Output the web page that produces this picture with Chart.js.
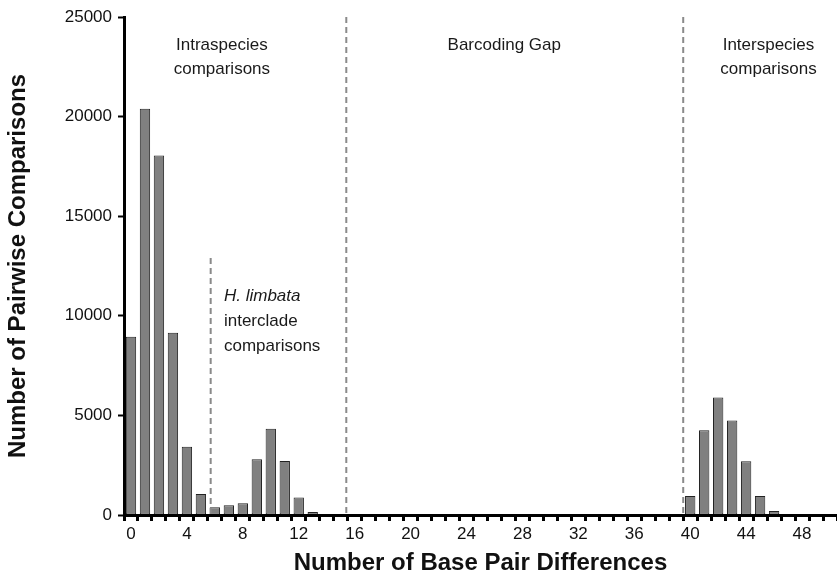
<!DOCTYPE html>
<html>
<head>
<meta charset="utf-8">
<script src="https://cdn.jsdelivr.net/npm/chart.js@4/dist/chart.umd.min.js"></script>
<style>
  html, body { margin: 0; padding: 0; background: #fff; }
  #wrap { width: 837px; height: 578px; }
</style>
</head>
<body>
<div id="wrap"><canvas id="gapChart"></canvas></div>
<script>
// Number of base pair differences, 0..50
const differences = Array.from({ length: 51 }, (_, i) => String(i));

// Pairwise comparison counts
const comparisons = [
    8950, 20400, 18050, 9150, 3420, 1050, 390, 490, 590, 2800,
    4330, 2710, 880, 150, 0, 0, 0, 0, 0, 0,
    0, 0, 0, 0, 0, 0, 0, 0, 0, 0,
    0, 0, 0, 0, 0, 0, 0, 0, 0, 0,
    950, 4250, 5900, 4750, 2700, 950, 200, 50, 0, 0,
    0
];

const yTicks = [0, 5000, 10000, 15000, 20000, 25000];

// Dashed separators: [x position (in categories), top value or null for full height]
const separators = [
    [5.7, 12900],
    [15.4, null],
    [39.5, null]
];

const FONT = '"Liberation Sans", Arial, sans-serif';

const annotationPlugin = {
    id: 'annotations',
    afterDatasetsDraw(chart) {
        const { ctx, chartArea, scales: { x, y } } = chart;
        ctx.save();

        // dashed separators
        ctx.strokeStyle = '#8a8a8a';
        ctx.lineWidth = 2;
        ctx.setLineDash([6, 4]);
        separators.forEach(([pos, top]) => {
            const px = x.getPixelForValue(pos);
            const py = top === null ? chartArea.top : y.getPixelForValue(top);
            ctx.beginPath();
            ctx.moveTo(px, py);
            ctx.lineTo(px, y.getPixelForValue(0));
            ctx.stroke();
        });
        ctx.setLineDash([]);

        // region labels
        ctx.fillStyle = '#1a1a1a';
        ctx.textBaseline = 'middle';
        ctx.font = '17px ' + FONT;
        ctx.textAlign = 'center';
        const put = (txt, pos, val) => ctx.fillText(txt, x.getPixelForValue(pos), y.getPixelForValue(val));
        put('Intraspecies', 6.5, 23600);
        put('comparisons', 6.5, 22350);
        put('Barcoding Gap', 26.7, 23600);
        put('Interspecies', 45.6, 23600);
        put('comparisons', 45.6, 22350);

        ctx.textAlign = 'left';
        ctx.font = 'italic 17px ' + FONT;
        put('H. limbata', 6.65, 11000);
        ctx.font = '17px ' + FONT;
        put('interclade', 6.65, 9740);
        put('comparisons', 6.65, 8480);

        ctx.restore();
    }
};

const ctx = document.getElementById('gapChart').getContext('2d');
const gapChart = new Chart(ctx, {
    type: 'bar',
    data: {
        labels: differences,
        datasets: [{
            data: comparisons,
            backgroundColor: '#808080',
            borderColor: '#222',
            borderWidth: 1,
            borderSkipped: false,
            categoryPercentage: 1,
            barPercentage: 0.74
        }]
    },
    options: {
        responsive: true,
        maintainAspectRatio: false,
        animation: false,
        layout: { padding: { top: 17, left: 0, right: 0, bottom: 0 } },
        plugins: {
            legend: { display: false },
            tooltip: { enabled: false }
        },
        scales: {
            x: {
                afterFit(scale) { scale.height = 63; },
                border: { color: '#000', width: 3, z: 1 },
                grid: {
                    drawOnChartArea: false,
                    tickLength: 6,
                    tickColor: '#000',
                    tickWidth: 3
                },
                ticks: {
                    autoSkip: false,
                    maxRotation: 0,
                    padding: 3,
                    color: '#111',
                    font: { family: FONT, size: 17 },
                    callback: function(value, index) {
                        return index % 4 === 0 ? differences[index] : '';
                    }
                },
                title: {
                    display: true,
                    text: 'Number of Base Pair Differences',
                    color: '#111',
                    font: { family: FONT, size: 24, weight: 'bold' },
                    padding: { top: 0, bottom: 0 }
                }
            },
            y: {
                min: 0,
                max: 25000,
                afterFit(scale) { scale.width = 124; },
                afterBuildTicks(scale) {
                    scale.ticks = yTicks.map(v => ({ value: v }));
                },
                border: { color: '#000', width: 3 },
                grid: {
                    drawOnChartArea: false,
                    tickLength: 6,
                    tickColor: '#000',
                    tickWidth: 2
                },
                ticks: {
                    padding: 6,
                    color: '#111',
                    font: { family: FONT, size: 17 },
                    callback: value => String(value)
                },
                title: {
                    display: true,
                    text: 'Number of Pairwise Comparisons',
                    color: '#111',
                    font: { family: FONT, size: 24, weight: 'bold' },
                    padding: { top: 4, bottom: 0 }
                }
            }
        }
    },
    plugins: [annotationPlugin]
});
</script>
</body>
</html>
